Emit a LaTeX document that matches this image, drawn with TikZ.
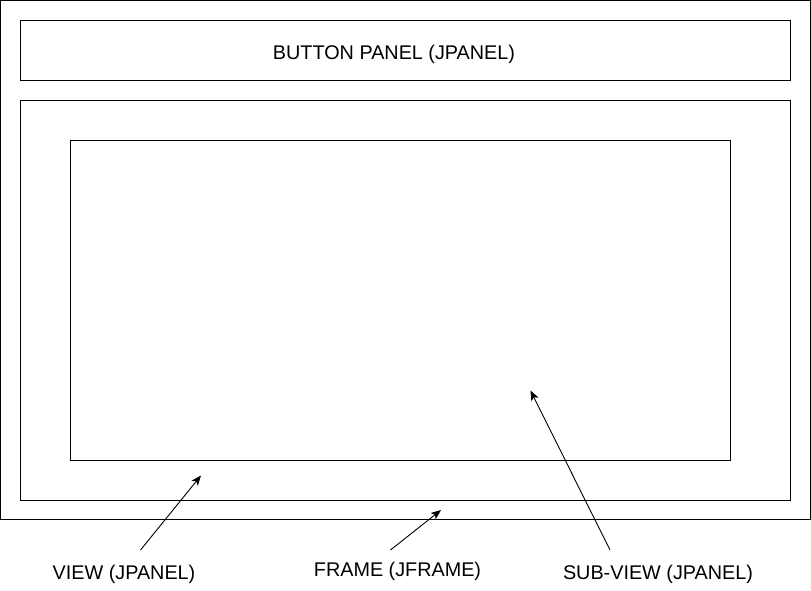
\documentclass[tikz,border=0pt]{standalone}
\usepackage{fontspec}
\setmainfont{Liberation Sans}
\usetikzlibrary{arrows.meta}
\begin{document}
\begin{tikzpicture}[x=1pt,y=-1pt,
  panel/.style={draw=black,line width=1pt,inner sep=0pt,outer sep=0pt},
  caption/.style={font=\fontsize{19.8}{23}\selectfont,anchor=base,inner sep=0pt,text=black},
  pointer/.style={draw=black,line width=0.9pt,-{Stealth[length=10pt,width=8pt,inset=2.5pt]}}]
  \useasboundingbox (0,0) rectangle (811,591);
  % containers: outer frame, button strip, view and its sub-view
  \node[panel,minimum width=809.5pt,minimum height=519pt] (frame) at (405.25,260) {};
  \node[panel,minimum width=770pt,minimum height=60pt] (buttons) at (405.5,50.5) {};
  \node[panel,minimum width=770pt,minimum height=400pt] (view) at (405.5,300.5) {};
  \node[panel,minimum width=660pt,minimum height=320pt] (subview) at (400.5,300.5) {};
  % labels
  \node[caption] (btnLabel) at (394,59.5) {BUTTON PANEL (JPANEL)};
  \node[caption] (viewLabel) at (124,579.5) {VIEW (JPANEL)};
  \node[caption] (frameLabel) at (397.5,576) {FRAME (JFRAME)};
  \node[caption] (subLabel) at (658,579.5) {SUB-VIEW (JPANEL)};
  % pointers from the captions to their containers
  \coordinate (viewFrom) at (140.5,550);
  \coordinate (viewTo) at (201,475.5);
  \coordinate (frameFrom) at (390.5,550);
  \coordinate (frameTo) at (441,510);
  \coordinate (subFrom) at (610,550);
  \coordinate (subTo) at (530.5,390.5);
  \draw[pointer] (viewFrom) -- (viewTo);
  \draw[pointer] (frameFrom) -- (frameTo);
  \draw[pointer] (subFrom) -- (subTo);
\end{tikzpicture}
\end{document}
